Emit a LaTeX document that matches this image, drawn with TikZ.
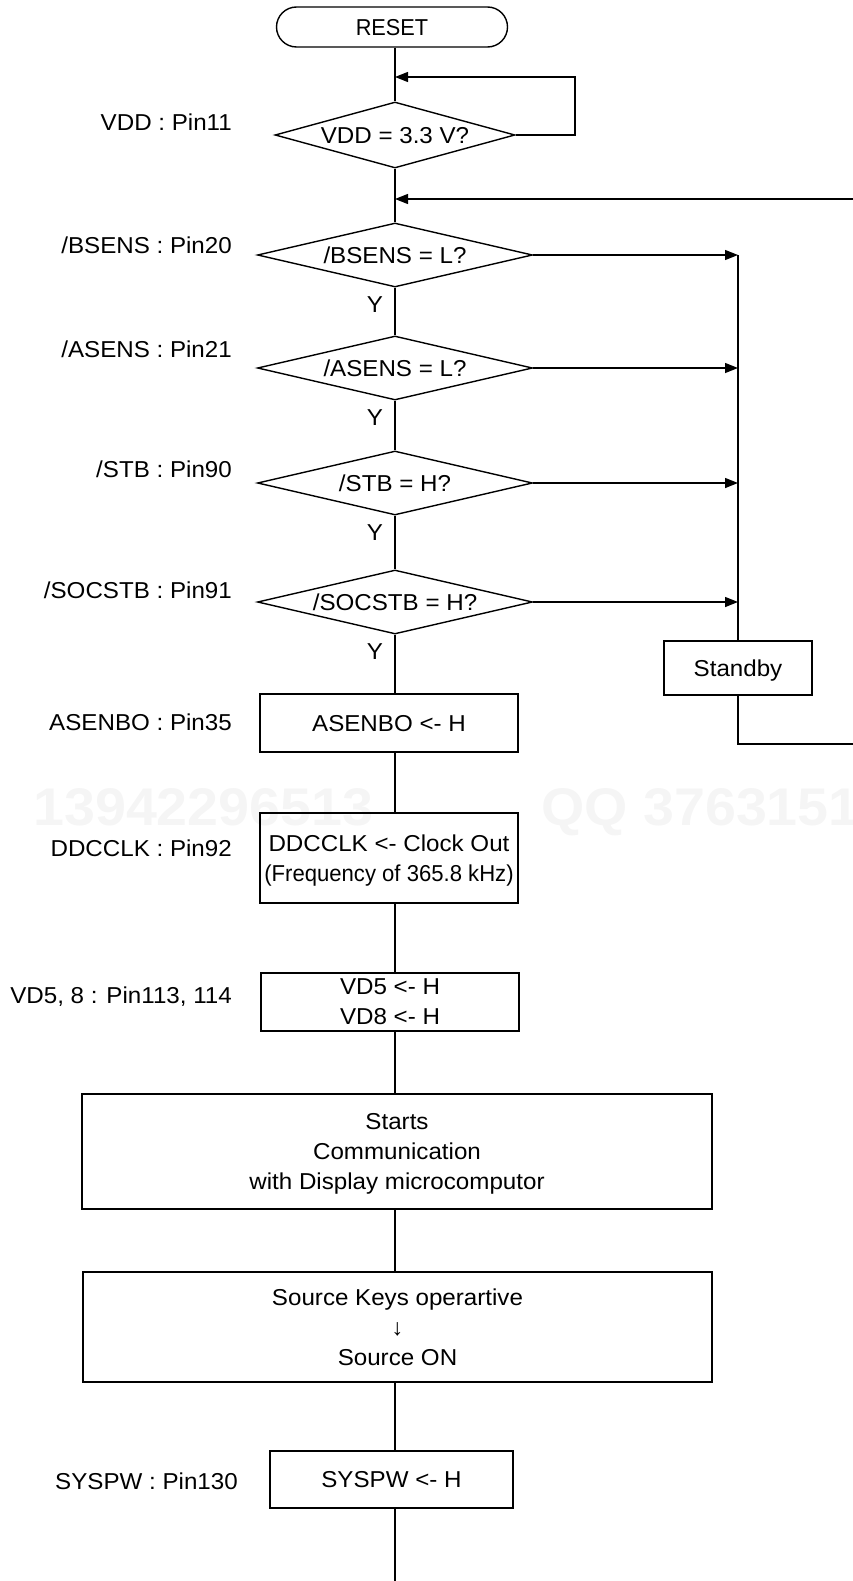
\documentclass[tikz,border=0pt]{standalone}
\usepackage{fontspec}
\usepackage{graphicx}
\setmainfont{Liberation Sans}[FakeStretch=1.05]
\usetikzlibrary{arrows.meta,shapes.geometric}
\begin{document}
\begin{tikzpicture}[x=1pt,y=-1pt,
  every node/.style={font=\fontsize{23}{30}\selectfont},
  ln/.style={line width=1.4pt},
  arr/.style={line width=1.4pt,-{Triangle[length=13pt,width=10pt]}},
  box/.style={draw,line width=1.4pt,rectangle,inner sep=0pt,align=center,text depth=0pt},
  dia/.style={draw,line width=1.4pt,diamond,aspect=4.2,inner sep=1pt,text depth=0pt},
  lbl/.style={inner sep=0pt,anchor=base east},
  wm/.style={inner sep=0pt,anchor=base west,text=black!4,font=\fontsize{53}{60}\selectfont\bfseries}
]
\useasboundingbox (0,0) rectangle (853,1581);
\clip (0,0) rectangle (853,1581);

% watermark
\node[wm] (wm1) at (33,825) {13942296513};
\node[wm] (wm2) at (541,825) {QQ 3763151};

\coordinate (m) at (395,0);

% terminator
\node[draw,line width=1.4pt,rounded corners=20pt,minimum width=231pt,minimum height=40pt,inner sep=0pt,text depth=0pt] (reset) at (392,27) {\scalebox{0.9}[1]{RESET}};

% decisions
\node[dia,minimum width=240pt,minimum height=66pt] (vdd) at (395,135) {VDD = 3.3 V?};
\node[dia,minimum width=275pt,minimum height=64pt] (bsens) at (395,255) {/BSENS = L?};
\node[dia,minimum width=275pt,minimum height=64pt] (asens) at (395,368) {/ASENS = L?};
\node[dia,minimum width=275pt,minimum height=64pt] (stb) at (395,483) {/STB = H?};
\node[dia,minimum width=275pt,minimum height=64pt] (socstb) at (395,602) {/SOCSTB = H?};

% Y labels
\node[inner sep=0pt] (y1) at (375,305) {Y};
\node[inner sep=0pt] (y2) at (375,418) {Y};
\node[inner sep=0pt] (y3) at (375,533) {Y};
\node[inner sep=0pt] (y4) at (375,652) {Y};

% pin labels
\node[lbl] (l1) at (232,131) {VDD : Pin11};
\node[lbl] (l2) at (232,253) {/BSENS : Pin20};
\node[lbl] (l3) at (232,357) {/ASENS : Pin21};
\node[lbl] (l4) at (232,477) {/STB : Pin90};
\node[lbl] (l5) at (232,598) {/SOCSTB : Pin91};
\node[lbl] (l6) at (232,730) {ASENBO : Pin35};
\node[lbl] (l7) at (232,856) {DDCCLK : Pin92};
\node[lbl] (l8) at (232,1003) {VD5, 8 : Pin113, 114};
\node[lbl] (l9) at (238,1489) {SYSPW : Pin130};

% process boxes
\node[box,minimum width=258pt,minimum height=58pt] (asenbo) at (389,723) {ASENBO <- H};
\node[box,minimum width=258pt,minimum height=90pt] (ddcclk) at (389,858) {DDCCLK <- Clock Out\\\scalebox{0.915}[1]{(Frequency of 365.8 kHz)}};
\node[box,minimum width=258pt,minimum height=58pt] (vd5) at (390,1002) {VD5 <- H\\VD8 <- H};
\node[box,minimum width=630pt,minimum height=115pt] (starts) at (397,1151.5) {Starts\\Communication\\with Display microcomputor};
\node[box,minimum width=629pt,minimum height=110pt] (source) at (397.5,1327) {Source Keys operartive\\↓\\Source ON};
\node[box,minimum width=243pt,minimum height=57pt] (syspw) at (391.5,1479.5) {SYSPW <- H};
\node[box,minimum width=148pt,minimum height=54pt] (standby) at (738,668) {Standby};

% helper coordinates
\coordinate (vloop) at (395,77);
\coordinate (vr) at (575,77);
\coordinate (rloop) at (395,199);
\coordinate (sb) at (738,744);
\coordinate (eb) at (875,744);
\coordinate (et) at (875,199);
\coordinate (bot) at (395,1595);

% main flow
\draw[ln] (reset.south -| m) -- (vdd.north);
\draw[arr] (vdd.east) -| (vr) -- (vloop);
\draw[ln] (vdd.south) -- (bsens.north);
\draw[ln] (bsens.south) -- (asens.north);
\draw[ln] (asens.south) -- (stb.north);
\draw[ln] (stb.south) -- (socstb.north);
\draw[ln] (socstb.south) -- (asenbo.north -| m);
\draw[ln] (asenbo.south -| m) -- (ddcclk.north -| m);
\draw[ln] (ddcclk.south -| m) -- (vd5.north -| m);
\draw[ln] (vd5.south -| m) -- (starts.north -| m);
\draw[ln] (starts.south -| m) -- (source.north -| m);
\draw[ln] (source.south -| m) -- (syspw.north -| m);
\draw[ln] (syspw.south -| m) -- (bot);

% NO branches
\draw[arr] (bsens.east) -- (bsens.east -| standby);
\draw[arr] (asens.east) -- (asens.east -| standby);
\draw[arr] (stb.east) -- (stb.east -| standby);
\draw[arr] (socstb.east) -- (socstb.east -| standby);
\draw[ln] (bsens.east -| standby) -- (standby.north);
\draw[arr] (standby.south) -- (sb) -- (eb) -- (et) -- (rloop);
\end{tikzpicture}
\end{document}
